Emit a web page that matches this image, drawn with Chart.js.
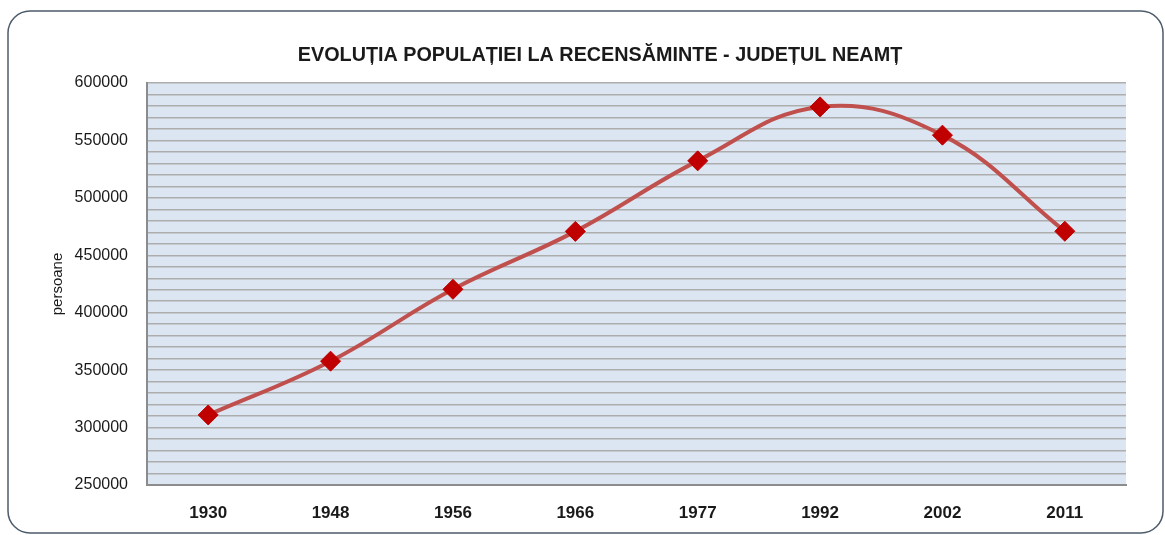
<!DOCTYPE html>
<html>
<head>
<meta charset="utf-8">
<script src="https://cdn.jsdelivr.net/npm/chart.js@4/dist/chart.umd.min.js"></script>
<style>
  html, body { margin: 0; padding: 0; background: #fff; }
  #wrap { width: 1165px; height: 535px; position: relative; }
</style>
</head>
<body>
<div id="wrap"><canvas id="chart"></canvas></div>
<script>
const years = ['1930', '1948', '1956', '1966', '1977', '1992', '2002', '2011'];
const population = [311000, 357800, 420400, 470800, 532200, 579200, 554600, 470900];
const yTickLabels = [250000, 300000, 350000, 400000, 450000, 500000, 550000, 600000];

const chartTitle = 'EVOLUȚIA POPULAȚIEI LA RECENSĂMINTE - JUDEȚUL NEAMȚ';
const yTitle = 'persoane';

// frame, plot background and title
const framePlugin = {
    id: 'frame',
    beforeDraw(chart) {
        const ctx = chart.ctx;
        const area = chart.chartArea;
        ctx.save();
        ctx.strokeStyle = '#4d5b6b';
        ctx.lineWidth = 1.5;
        ctx.beginPath();
        ctx.roundRect(8, 11, 1155, 522, 22);
        ctx.stroke();
        ctx.fillStyle = '#dce6f2';
        ctx.fillRect(area.left, area.top, area.right - area.left, area.bottom - area.top);

        ctx.fillStyle = '#1a1a1a';
        ctx.font = 'bold 19.8px "Liberation Sans", Arial, sans-serif';
        ctx.textAlign = 'center';
        ctx.textBaseline = 'middle';
        ctx.fillText(chartTitle, 600, 56);
        ctx.restore();
    }
};

const ctx = document.getElementById('chart').getContext('2d');
new Chart(ctx, {
    type: 'line',
    data: {
        labels: years,
        datasets: [{
            data: population,
            borderColor: '#c0504d',
            borderWidth: 4,
            tension: 0.4,
            pointStyle: 'rectRot',
            pointRadius: 10,
            pointHoverRadius: 10,
            pointBackgroundColor: '#c00000',
            pointBorderColor: '#c00000',
            pointBorderWidth: 1
        }]
    },
    options: {
        responsive: true,
        maintainAspectRatio: false,
        animation: false,
        layout: { padding: { left: 40, right: 39, top: 83, bottom: 0 } },
        plugins: {
            legend: { display: false },
            tooltip: { enabled: false },
            title: { display: false }
        },
        scales: {
            x: {
                offset: true,
                grid: { display: false, drawTicks: false },
                border: { display: true, color: '#8c8c8c', width: 2 },
                ticks: {
                    color: '#1a1a1a',
                    padding: 18,
                    font: { family: 'Liberation Sans, Arial, sans-serif', size: 17, weight: 'bold' }
                },
                afterFit(scale) { scale.height = 50; }
            },
            y: {
                min: 250000,
                max: 600000,
                grid: { color: '#adadad', lineWidth: 1.5, drawTicks: false },
                border: { display: true, color: '#8c8c8c', width: 2 },
                title: {
                    display: true,
                    text: yTitle,
                    color: '#1a1a1a',
                    font: { family: 'Liberation Sans, Arial, sans-serif', size: 15 },
                    padding: { top: 9, bottom: 0 }
                },
                ticks: {
                    stepSize: 10000,
                    autoSkip: false,
                    padding: 19,
                    color: '#1a1a1a',
                    font: { family: 'Liberation Sans, Arial, sans-serif', size: 16 },
                    callback: (v) => yTickLabels.includes(v) ? String(v) : ''
                },
                afterFit(scale) { scale.width = 107; }
            }
        }
    },
    plugins: [framePlugin]
});
</script>
</body>
</html>
